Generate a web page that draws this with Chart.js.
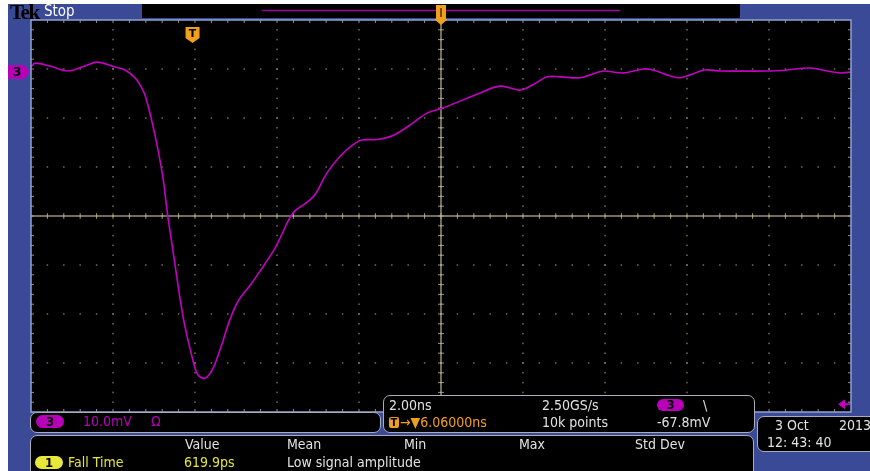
<!DOCTYPE html>
<html>
<head>
<meta charset="utf-8">
<script src="https://cdn.jsdelivr.net/npm/chart.js@4.4.1/dist/chart.umd.min.js"></script>
<style>
  html, body { margin: 0; padding: 0; background: #fff; width: 870px; height: 471px; overflow: hidden; }
  #bezel { position: absolute; left: 8px; top: 4px; width: 862px; height: 467px; background: #3b4a96; }
  #wrap { position: absolute; left: 0; top: 0; width: 870px; height: 471px; }
  .t { position: absolute; font-family: "DejaVu Sans Condensed", "DejaVu Sans", sans-serif; font-size: 14px; line-height: 16px; white-space: nowrap; color: #e2e2e2; }
  .panel { position: absolute; box-sizing: border-box; background: #000; border: 1.5px solid #a9adb9; border-radius: 7px; }
  .pill { position: absolute; box-sizing: border-box; border-radius: 7px; text-align: center; color: #000; font-family: "DejaVu Sans Condensed", "DejaVu Sans", sans-serif; font-size: 13px; font-weight: bold; line-height: 13px; }
  .mag { color: #b800b8; }
  .yel { color: #e4e43a; }
  .org { color: #f0a020; }
</style>
</head>
<body>
<div id="bezel"></div>
<div id="wrap"><canvas id="scope" width="870" height="471"></canvas></div>

<!-- header -->
<div class="t" style="left:10px;top:1px;font-family:'Liberation Serif',serif;font-weight:bold;font-size:21px;line-height:22px;color:#000;letter-spacing:-1.5px;">Tek</div>
<div class="t" style="left:44px;top:2px;font-size:15px;line-height:18px;color:#fff;">Stop</div>

<!-- channel panel -->
<div class="panel" style="left:30px;top:412px;width:351px;height:21px;"></div>
<div class="pill" style="left:36px;top:415px;width:28px;height:13px;background:#b800b8;">3</div>
<div class="t mag" style="left:83px;top:413px;">10.0mV</div>
<div class="t mag" style="left:151px;top:413px;">Ω</div>

<!-- timebase panel -->
<div class="panel" style="left:383px;top:395px;width:372px;height:38px;"></div>
<div class="t" style="left:389px;top:397px;">2.00ns</div>
<div class="t" style="left:542px;top:397px;">2.50GS/s</div>
<div class="pill" style="left:657px;top:399px;width:27px;height:12px;line-height:12px;background:#b800b8;">3</div>
<div class="t" style="left:703px;top:397px;">\</div>
<div class="pill" style="left:389px;top:417px;width:10px;height:11px;line-height:11px;border-radius:2px;background:#f0a020;font-size:11px;">T</div>
<div class="t org" style="left:400px;top:414px;">→▼6.06000ns</div>
<div class="t" style="left:542px;top:414px;">10k points</div>
<div class="t" style="left:657px;top:414px;">-67.8mV</div>

<!-- measurement panel -->
<div class="panel" style="left:30px;top:435px;width:724px;height:44px;"></div>
<div class="t" style="left:185px;top:436px;">Value</div>
<div class="t" style="left:287px;top:436px;">Mean</div>
<div class="t" style="left:404px;top:436px;">Min</div>
<div class="t" style="left:519px;top:436px;">Max</div>
<div class="t" style="left:635px;top:436px;">Std Dev</div>
<div class="pill" style="left:35px;top:456px;width:28px;height:13px;background:#e8e83a;">1</div>
<div class="t yel" style="left:68px;top:454px;">Fall Time</div>
<div class="t yel" style="left:184px;top:454px;">619.9ps</div>
<div class="t" style="left:287px;top:454px;">Low signal amplitude</div>

<!-- date panel -->
<div class="panel" style="left:757px;top:416px;width:125px;height:36px;"></div>
<div class="t" style="left:775px;top:417px;">3 Oct</div>
<div class="t" style="left:839px;top:417px;">2013</div>
<div class="t" style="left:767px;top:434px;">12: 43: 40</div>

<script>
// channel 3 trace, time in ns from trigger, amplitude in mV
const timeNs = [-3.94, -3.84, -3.48, -3.04, -2.62, -2.33, -1.89, -1.65, -1.40, -1.28, -1.16, -0.96, -0.74, -0.60, -0.48,
  -0.23, -0.01, 0.13, 0.30, 0.48, 0.67, 0.91, 1.11, 1.40, 1.65, 2.01, 2.13, 2.45, 2.79, 2.99, 3.28, 3.60, 3.91, 4.13,
  4.50, 4.82, 5.06, 5.38, 5.72, 6.09, 6.60, 7.01, 7.50, 7.99, 8.30, 8.65, 8.96, 9.45, 9.70, 10.01, 10.50, 10.99, 11.23,
  11.57, 11.89, 12.13, 12.50, 12.87, 14.01, 14.50, 15.06, 15.48, 15.79, 16.06];
const traceMv = [1.0, 1.8, 1.2, 0.2, 1.2, 2.0, 1.0, 0.4, -1.2, -2.7, -4.7, -11.2, -20.6, -29.6, -36.3,
  -50.0, -58.2, -61.8, -62.5, -60.8, -56.7, -50.6, -46.8, -43.6, -40.6, -36.0, -34.0, -28.8, -26.6, -25.0, -20.6, -17.2, -14.9, -13.9,
  -13.8, -13.2, -12.2, -10.4, -8.4, -7.4, -5.7, -4.3, -2.9, -3.7, -2.6, -1.0, -1.0, -1.2, -0.6, 0.2, -0.2, 0.6, 0.4,
  -0.6, -1.2, -0.6, 0.4, 0.2, 0.2, 0.4, 0.8, 0.2, -0.2, 0.0];

// screen: 10 divisions of 2 ns, 8 divisions of 10 mV
const xMin = -3.94, nsPerDiv = 2, xDivs = 10;
const yMin = -69.4, mvPerDiv = 10, yDivs = 8;
const triggerLevelMv = -67.8;

const graticule = {
  id: 'graticule',
  beforeDatasetsDraw(chart) {
    const {ctx, chartArea: a, scales: {x, y}} = chart;
    ctx.save();
    ctx.fillStyle = '#000';
    ctx.fillRect(a.left, a.top, a.right - a.left, a.bottom - a.top);

    // dotted division lines
    ctx.fillStyle = 'rgba(140,136,108,0.8)';
    for (let i = 1; i < xDivs; i++) {
      const px = x.getPixelForValue(xMin + i * nsPerDiv);
      for (let j = 1; j < yDivs * 5; j++) {
        const py = y.getPixelForValue(yMin + j * mvPerDiv / 5);
        ctx.fillRect(px - 0.75, py - 0.75, 1.5, 1.5);
      }
    }
    for (let j = 1; j < yDivs; j++) {
      const py = y.getPixelForValue(yMin + j * mvPerDiv);
      for (let i = 1; i < xDivs * 5; i++) {
        const px = x.getPixelForValue(xMin + i * nsPerDiv / 5);
        ctx.fillRect(px - 0.75, py - 0.75, 1.5, 1.5);
      }
    }

    // center crosshair with minor ticks
    const cx = x.getPixelForValue(xMin + nsPerDiv * xDivs / 2);
    const cy = y.getPixelForValue(yMin + mvPerDiv * yDivs / 2);
    ctx.strokeStyle = 'rgba(190,182,145,0.8)';
    ctx.lineWidth = 1.5;
    ctx.beginPath();
    ctx.moveTo(a.left, cy); ctx.lineTo(a.right, cy);
    ctx.moveTo(cx, a.top); ctx.lineTo(cx, a.bottom);
    ctx.stroke();
    ctx.lineWidth = 1;
    ctx.beginPath();
    for (let i = 1; i < xDivs * 5; i++) {
      const px = x.getPixelForValue(xMin + i * nsPerDiv / 5);
      ctx.moveTo(px, cy - 3); ctx.lineTo(px, cy + 3);
      ctx.moveTo(px, a.top); ctx.lineTo(px, a.top + 3);
      ctx.moveTo(px, a.bottom); ctx.lineTo(px, a.bottom - 3);
    }
    for (let j = 1; j < yDivs * 5; j++) {
      const py = y.getPixelForValue(yMin + j * mvPerDiv / 5);
      ctx.moveTo(cx - 3, py); ctx.lineTo(cx + 3, py);
      ctx.moveTo(a.left, py); ctx.lineTo(a.left + 3, py);
      ctx.moveTo(a.right, py); ctx.lineTo(a.right - 3, py);
    }
    ctx.stroke();
    ctx.restore();
  },
  afterDraw(chart) {
    const {ctx, chartArea: a, scales: {x, y}} = chart;
    ctx.save();
    // screen border
    ctx.strokeStyle = '#8ea4d4';
    ctx.lineWidth = 1.5;
    ctx.strokeRect(a.left, a.top, a.right - a.left, a.bottom - a.top);

    // record bar on top
    ctx.fillStyle = '#000';
    ctx.fillRect(142, 4, 598, 14);
    ctx.strokeStyle = '#a000a0';
    ctx.lineWidth = 1.5;
    ctx.beginPath(); ctx.moveTo(262, 10.5); ctx.lineTo(620, 10.5); ctx.stroke();

    // horizontal position marker (top center)
    const cx = x.getPixelForValue(xMin + nsPerDiv * xDivs / 2);
    ctx.fillStyle = '#f0a020';
    ctx.beginPath();
    ctx.moveTo(cx - 5, 5); ctx.lineTo(cx + 5, 5); ctx.lineTo(cx + 5, 19);
    ctx.lineTo(cx + 7, 19); ctx.lineTo(cx, 25); ctx.lineTo(cx - 7, 19); ctx.lineTo(cx - 5, 19);
    ctx.closePath(); ctx.fill();
    ctx.fillStyle = '#7a4a00';
    ctx.fillRect(cx - 1, 8, 2, 9);

    // trigger point badge
    const tx = x.getPixelForValue(0);
    ctx.fillStyle = '#f0a020';
    ctx.beginPath();
    ctx.moveTo(tx - 7, 27); ctx.lineTo(tx + 7, 27); ctx.lineTo(tx + 7, 38);
    ctx.lineTo(tx, 43); ctx.lineTo(tx - 7, 38); ctx.closePath(); ctx.fill();
    ctx.fillStyle = '#000';
    ctx.font = 'bold 11px "DejaVu Sans", sans-serif';
    ctx.textAlign = 'center'; ctx.textBaseline = 'middle';
    ctx.fillText('T', tx, 34);

    // channel 3 ground marker
    const gy = y.getPixelForValue(0);
    ctx.fillStyle = '#b800b8';
    ctx.beginPath();
    ctx.moveTo(8, gy - 7); ctx.lineTo(24, gy - 7); ctx.lineTo(30, gy);
    ctx.lineTo(24, gy + 7); ctx.lineTo(8, gy + 7); ctx.closePath(); ctx.fill();
    ctx.fillStyle = '#000';
    ctx.font = 'bold 13px "DejaVu Sans", sans-serif';
    ctx.fillText('3', 17, gy + 1);

    // trigger level arrow
    const ly = y.getPixelForValue(triggerLevelMv);
    ctx.fillStyle = '#c000c0';
    ctx.beginPath();
    ctx.moveTo(838, ly); ctx.lineTo(845, ly - 5); ctx.lineTo(845, ly + 5); ctx.closePath(); ctx.fill();
    ctx.fillRect(844, ly - 1, 6, 2);
    ctx.restore();
  }
};

new Chart(document.getElementById('scope'), {
  type: 'line',
  data: {
    datasets: [{
      label: 'CH3',
      data: timeNs.map((t, i) => ({x: t, y: traceMv[i]})),
      borderColor: '#c400c4',
      borderWidth: 1.6,
      pointRadius: 0,
      tension: 0.35,
      fill: false
    }]
  },
  options: {
    responsive: false,
    animation: false,
    events: [],
    layout: { padding: { left: 31, top: 20, right: 19, bottom: 59 } },
    plugins: { legend: { display: false }, tooltip: { enabled: false }, title: { display: false } },
    scales: {
      x: { type: 'linear', display: false, min: xMin, max: xMin + nsPerDiv * xDivs },
      y: { type: 'linear', display: false, min: yMin, max: yMin + mvPerDiv * yDivs }
    }
  },
  plugins: [graticule]
});
</script>
</body>
</html>
